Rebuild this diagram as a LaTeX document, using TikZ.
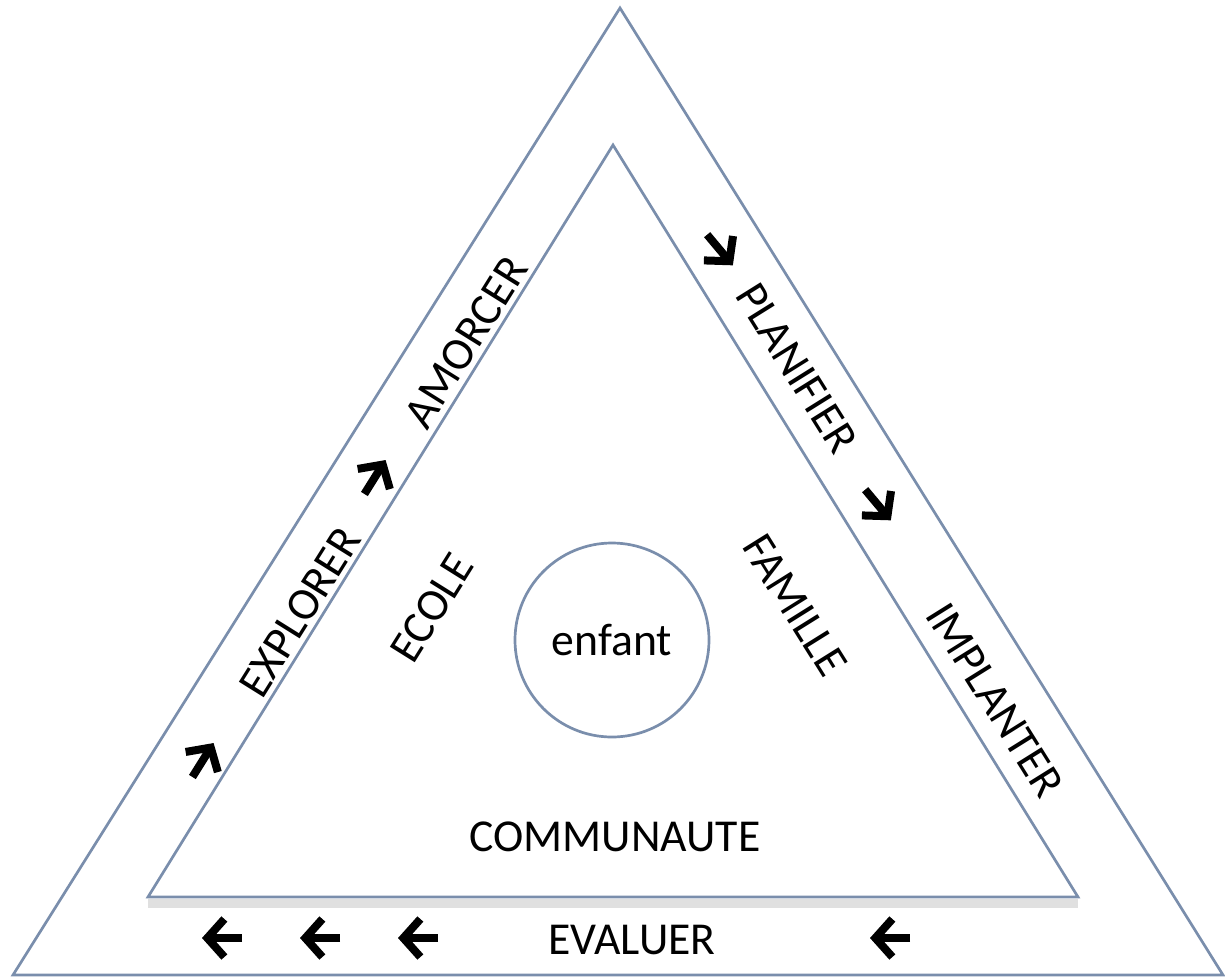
\documentclass[tikz,border=0pt]{standalone}
\usepackage{fontspec}
\setmainfont{Carlito}
\usepackage{tikz}
\usetikzlibrary{arrows.meta, calc, positioning}
\definecolor{edgeblue}{RGB}{122,142,172}
\definecolor{shadowgrey}{RGB}{224,224,224}
\tikzset{
  frame/.style={draw=edgeblue, line width=0.27mm, line join=miter},
  word/.style={inner sep=1pt},
  stub/.style={line width=0.8mm, -{Straight Barb[length=1.7mm, width=3.8mm]}},
}

\begin{document}
\begin{tikzpicture}[x=0.1mm, y=-0.1mm, font=\fontsize{13}{15}\selectfont]
\useasboundingbox (0,0) rectangle (1225,977);
    % Triangles
    \coordinate (oa) at (620,8);
    \coordinate (ol) at (13,975);
    \coordinate (or) at (1223,975);
    \coordinate (ia) at (613,145);
    \coordinate (il) at (148,897);
    \coordinate (ir) at (1078,897);
    \draw [draw=shadowgrey, line width=0.9mm] ([yshift=-0.6mm]il) -- ([yshift=-0.6mm]ir);
    \draw [frame] (oa) -- (ol) -- (or) -- cycle;
    \draw [frame] (ia) -- (il) -- (ir) -- cycle;

    % Centre
    \node [circle, draw=edgeblue, line width=0.27mm, minimum size=19.4mm] (enfant) at (612,640) {enfant};

    % Inner words
    \node [word, rotate=58] (ecole) at (432,608) {ECOLE};
    \node [word, rotate=-58] (famille) at (795,605) {FAMILLE};
    \node [word] (communaute) at (615,837) {COMMUNAUTE};

    % Band words
    \node [word, rotate=58] (explorer) at (300,612) {EXPLORER};
    \node [word, rotate=58] (amorcer) at (466,342) {AMORCER};
    \node [word, rotate=-58] (planifier) at (797,368) {PLANIFIER};
    \node [word, rotate=-58] (implanter) at (995,700) {IMPLANTER};
    \node [word] (evaluer) at (632,940) {EVALUER};

    % Arrows
    \foreach \x/\y/\a in {203/760/-58, 375/477/-58, 720/250/50, 878/505/50,
                          222/938/180, 320/938/180, 418/938/180, 890/938/180}
    {
    \draw [stub] ($(\x,\y)+(\a:-20)$) -- ($(\x,\y)+(\a:20)$);
    }

\end{tikzpicture}
\end{document}
